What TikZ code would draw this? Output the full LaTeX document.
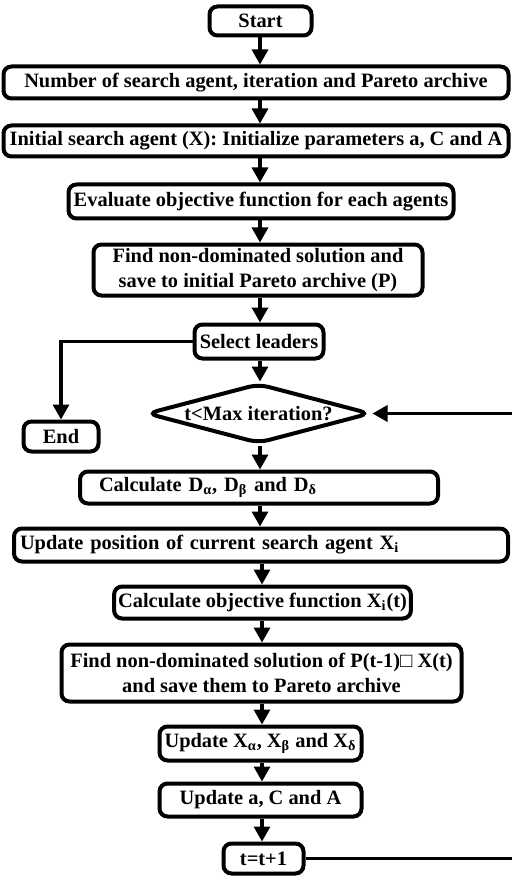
\documentclass[tikz,border=0pt]{standalone}
\usepackage{fontspec}
\setmainfont{Liberation Serif}
\usetikzlibrary{shapes.geometric,arrows.meta}
\begin{document}
\begin{tikzpicture}[x=0.5pt,y=-0.5pt,
  box/.style={draw,line width=2pt,rounded corners=4pt,inner xsep=2pt,inner ysep=1pt,align=center,
    font=\fontsize{10.2}{12.5}\selectfont\bfseries},
  arr/.style={line width=1.6pt,-{Triangle[length=7.5pt,width=8pt]}}]
\clip (0,0) rectangle (512,877);
\coordinate (ax) at (260,0);
\coordinate (bx) at (262,0);
\coordinate (loopc) at (520,0);
\node[box,minimum width=51pt,minimum height=14.5pt] (start) at (260.5,21) {Start};
\node[box,minimum width=252.5pt,minimum height=16pt] (n1) at (256,82.5) {Number of search agent, iteration and Pareto archive};
\node[box,minimum width=252.5pt,minimum height=15.5pt] (n2) at (256,141) {Initial search agent (X): Initialize parameters a, C and A};
\node[box,minimum width=192.5pt,minimum height=17pt] (n3) at (261,201.5) {Evaluate objective function for each agents};
\node[box,minimum width=164.5pt,minimum height=25.5pt] (n4) at (258,270) {Find non-dominated solution and\\save to initial Pareto archive (P)};
\node[box,minimum width=64.5pt,minimum height=17pt] (sel) at (259,341.5) {Select leaders};
\node[box,shape=diamond,aspect=3.6,minimum width=112pt,minimum height=30pt,inner sep=0pt,rounded corners=5pt] (dia) at (258.5,413.5) {t<Max iteration?};
\node[box,minimum width=37.5pt,minimum height=15pt] (end) at (61,436.5) {End};
\node[box,text width=160pt,align=left,inner xsep=9.5pt,minimum height=16pt] (calcd) at (259,487.5) {Calculate D\textsubscript{α}, D\textsubscript{β} and D\textsubscript{δ}};
\node[box,text width=241pt,align=left,inner xsep=3pt,minimum height=16.5pt] (updpos) at (261,545) {Update position of current search agent X\textsubscript{i}};
\node[box,minimum width=148pt,minimum height=16pt] (calcobj) at (262.5,602.5) {Calculate objective function X\textsubscript{i}(t)};
\node[box,minimum width=200pt,minimum height=28.5pt] (find2) at (261.5,673) {Find non-dominated solution of P(t-1)□ X(t)\\and save them to Pareto archive};
\node[box,minimum width=101pt,minimum height=17pt] (updx) at (260.5,743.5) {Update X\textsubscript{α}, X\textsubscript{β} and X\textsubscript{δ}};
\node[box,minimum width=101pt,minimum height=16.5pt] (upda) at (260.5,800) {Update a, C and A};
\node[box,minimum width=40pt,minimum height=15pt] (t) at (263.5,858.5) {t=t+1};
\draw[arr] (start.south -| ax) -- (n1.north -| ax);
\draw[arr] (n1.south -| ax) -- (n2.north -| ax);
\draw[arr] (n2.south -| ax) -- (n3.north -| ax);
\draw[arr] (n3.south -| ax) -- (n4.north -| ax);
\draw[arr] (n4.south -| ax) -- (sel.north -| ax);
\draw[arr] (sel.south -| ax) -- (dia.north -| ax);
\draw[arr] (dia.south -| ax) -- (calcd.north -| ax);
\draw[arr] (calcd.south -| ax) -- (updpos.north -| ax);
\draw[arr] (updpos.south -| bx) -- (calcobj.north -| bx);
\draw[arr] (calcobj.south -| bx) -- (find2.north -| bx);
\draw[arr] (find2.south -| bx) -- (updx.north -| bx);
\draw[arr] (updx.south -| bx) -- (upda.north -| bx);
\draw[arr] (upda.south -| bx) -- (t.north -| bx);
\draw[arr] (sel.west) -| (end.north);
\draw[arr] (t.east) -- (t.east -| loopc) |- (dia.east);
\end{tikzpicture}
\end{document}
